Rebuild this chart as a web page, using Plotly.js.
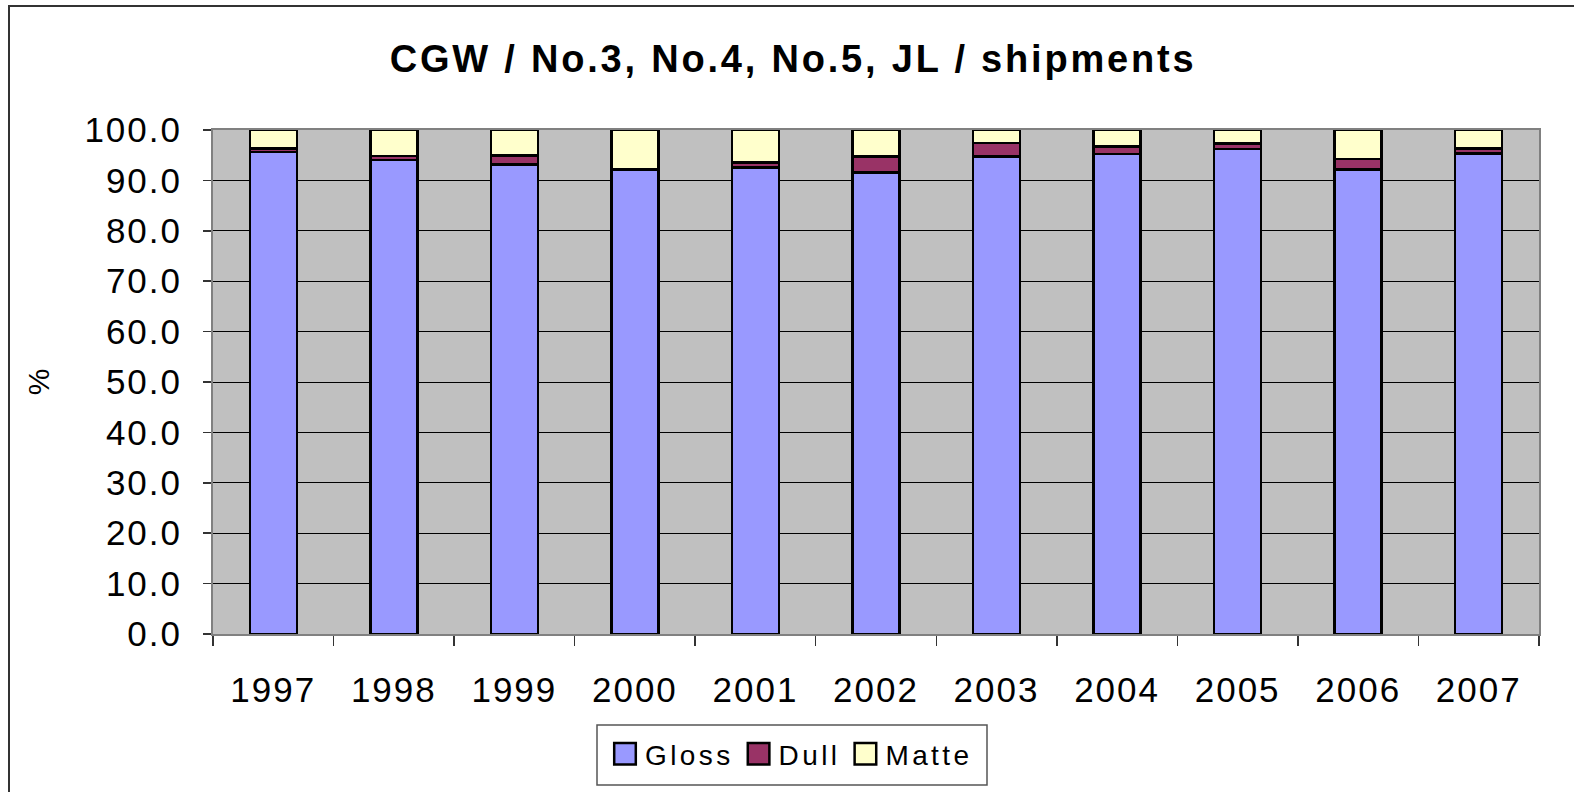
<!DOCTYPE html>
<html>
<head>
<meta charset="utf-8">
<script src="https://cdn.plot.ly/plotly-3.0.1.min.js"></script>
<style>
  html, body { margin: 0; padding: 0; background: #fff; overflow: hidden; }
  #frame { position: absolute; left: 8px; top: 5px; width: 1580px; height: 820px; border: 2px solid #333; box-sizing: border-box; }
  #chart { position: absolute; left: 0; top: 0; width: 1574px; height: 792px; }
  .xtick text, .ytick text { letter-spacing: 2px; }
  .gtitle { letter-spacing: 2.8px; }
  .legendtext { letter-spacing: 3.4px; }
  .legendpoints path { transform: translate(20px, 0px) scale(1.8); vector-effect: non-scaling-stroke; }
</style>
</head>
<body>
<div id="frame"></div>
<div id="chart"></div>
<script>
const years = ['1997','1998','1999','2000','2001','2002','2003','2004','2005','2006','2007'];
const gloss = [95.6, 94.0, 93.2, 92.2, 92.6, 91.6, 94.7, 95.2, 96.2, 92.2, 95.3];
const dull  = [0.7, 0.8, 1.7, 0.1, 1.0, 3.1, 2.7, 1.5, 1.1, 2.0, 1.0];
const matte = [3.7, 5.2, 5.1, 7.7, 6.4, 5.3, 2.6, 3.3, 2.7, 5.8, 3.7];
const yTicks = [0,10,20,30,40,50,60,70,80,90,100];

const lineStyle = {color: '#000', width: 2.5};
const traces = [
  {type: 'bar', name: 'Gloss', x: years, y: gloss, marker: {color: '#9999FF', line: lineStyle}, hoverinfo: 'none'},
  {type: 'bar', name: 'Dull',  x: years, y: dull,  marker: {color: '#993366', line: lineStyle}, hoverinfo: 'none'},
  {type: 'bar', name: 'Matte', x: years, y: matte, marker: {color: '#FFFFCC', line: lineStyle}, hoverinfo: 'none'}
];

// plot area in pixels: left 213, right 1539, top 130, bottom 634
const PL = 213, PR = 1539, PT = 130, PB = 634;
const PW = PR - PL, PH = PB - PT;
const px = v => (v - PL) / PW;
const py = v => (PB - v) / PH;

const layout = {
  width: 1574, height: 792,
  margin: {l: PL, r: 1574 - PR, t: PT, b: 792 - PB},
  paper_bgcolor: 'rgba(0,0,0,0)',
  plot_bgcolor: '#C0C0C0',
  barmode: 'stack',
  bargap: 0.61,
  font: {family: 'Arial, Liberation Sans, sans-serif', color: '#000'},
  title: {
    text: 'CGW / No.3, No.4, No.5, JL / shipments',
    font: {size: 38, weight: 'bold', color: '#000'},
    x: 793 / 1574, xanchor: 'center', xref: 'container',
    y: 1 - 59/792, yanchor: 'middle', yref: 'container'
  },
  xaxis: {
    type: 'category',
    tickson: 'boundaries',
    ticks: 'outside', ticklen: 10, tickcolor: '#333', tickwidth: 1.5,
    showline: true, linecolor: '#808080', linewidth: 2, mirror: true,
    showgrid: false,
    tickfont: {size: 35},
    ticklabelstandoff: 24,
    fixedrange: true
  },
  yaxis: {
    range: [0, 100],
    tickvals: yTicks,
    ticktext: yTicks.map(v => v.toFixed(1)),
    ticks: 'outside', ticklen: 8, tickcolor: '#333', tickwidth: 1.5,
    showline: true, linecolor: '#808080', linewidth: 2, mirror: true,
    showgrid: true, gridcolor: '#000', gridwidth: 1,
    zeroline: false,
    tickfont: {size: 35},
    ticklabelstandoff: 14,
    title: {text: '%', font: {size: 30}, standoff: 26},
    fixedrange: true
  },
  shapes: [{
    type: 'rect', xref: 'paper', yref: 'paper',
    x0: px(597), x1: px(987), y0: py(785), y1: py(725),
    fillcolor: '#fff', line: {color: '#555', width: 1.5}, layer: 'above'
  }],
  showlegend: true,
  legend: {
    orientation: 'h',
    x: px(605), xanchor: 'left',
    y: py(754), yanchor: 'middle',
    bgcolor: 'rgba(0,0,0,0)', borderwidth: 0,
    font: {size: 28},
    traceorder: 'normal',
    itemwidth: 30
  }
};

Plotly.newPlot('chart', traces, layout, {displayModeBar: false, staticPlot: true});
</script>
</body>
</html>
